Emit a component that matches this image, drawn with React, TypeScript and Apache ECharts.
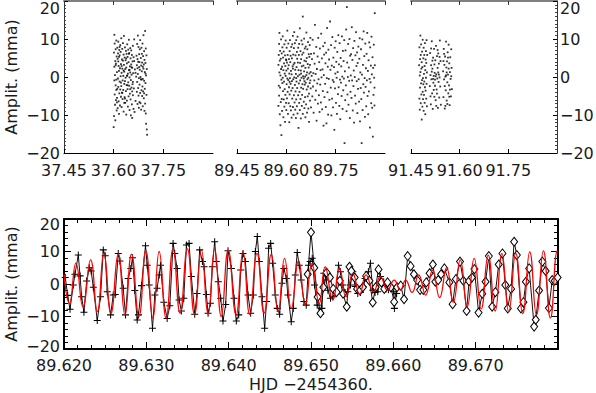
import React, { useEffect, useRef } from "react";
import * as echarts from "echarts";

const FONT = "DejaVu Sans";
const TXT = "#1a1a1a";

// ---------- Top row: three observing runs, x = HJD - 2454360 ----------
const runRanges = [
  [37.45, 37.9],
  [89.45, 89.9],
  [91.45, 91.9],
];
const runTickStep = 0.15;
const ampTicks = { min: -20, max: 20, step: 10 };

// dots: flat pairs [time offset in 0.001 d from the run base, amplitude in mma]
const run1Base = 37.6;
const run1Dots = [
  0,-13.2, 1,6.4, 1,-10.3, 2,2.7, 2,11.1, 3,-4.6, 3,8.8, 4,-7.3, 4,0.5, 5,4.2,
  5,-11.4, 6,-2.2, 6,7.3, 7,3.5, 7,-6.1, 8,9.6, 8,-0.7, 9,5.4, 9,-8.8, 10,1.3,
  10,-5.5, 11,7.7, 11,-3.1, 12,4.8, 12,-8.2, 13,-0.4, 13,6.2, 14,-2.6, 14,9.3, 15,-6.4,
  15,2.9, 16,-9.7, 16,1.6, 17,7.1, 17,-4.3, 18,5.7, 18,-1.2, 19,2.3, 19,-7.5, 20,8.4,
  20,-3.3, 21,0.2, 21,6.6, 22,-5.2, 22,3.4, 23,10.2, 23,-2.4, 24,1.1, 24,-7.9, 25,4.6,
  25,-4.1, 26,7.4, 26,2.2, 27,-0.9, 27,-5.8, 28,4.3, 28,8.9, 29,-3.4, 29,0.3, 30,5.9,
  30,-9.1, 31,3.2, 31,10.8, 32,-1.8, 32,1.4, 33,5.1, 33,-5.3, 34,7.8, 34,-1.1, 35,2.1,
  35,-6.8, 36,4.4, 36,-0.2, 37,-3.7, 37,6.9, 38,2.5, 38,-9.9, 39,6.1, 39,-2.1, 40,3.6,
  40,-6.2, 41,8.6, 41,0.4, 42,-3.2, 42,5.3, 43,0.9, 43,-7.8, 44,7.2, 44,-1.4, 45,3.9,
  45,-5.1, 46,1.8, 46,9.8, 47,-2.3, 47,6.3, 48,-8.7, 48,-0.1, 49,2.8, 49,-4.4, 50,7.6,
  50,1.2, 51,-5.9, 51,4.9, 52,-0.8, 52,-10.1, 53,3.3, 53,7.0, 54,-2.8, 54,0.6, 55,5.8,
  55,-7.2, 56,2.4, 56,-10.8, 57,4.1, 57,-1.9, 58,8.2, 58,-4.8, 59,1.0, 60,-8.4, 60,5.2,
  61,-3.0, 62,9.9, 63,-9.2, 64,2.0, 66,-6.3, 68,0.1, 69,5.6, 70,-3.9, 70,3.1, 71,8.7,
  71,-1.3, 72,4.7, 72,-7.1, 73,0.8, 73,10.9, 74,-2.9, 74,4.0, 75,-4.9, 75,7.9, 76,-0.3,
  76,-8.1, 77,2.6, 77,6.0, 78,-2.0, 78,-6.6, 79,7.3, 79,1.9, 80,-4.2, 80,9.7, 81,0.0,
  81,-6.9, 82,5.0, 82,-0.6, 83,3.0, 83,-8.6, 84,7.7, 84,-3.5, 85,1.5, 85,6.1, 86,-5.0,
  86,3.8, 87,-2.5, 87,8.8, 88,-0.5, 88,-7.7, 89,5.5, 89,-3.8, 90,2.2, 90,11.0, 91,-5.6,
  91,3.3, 92,-1.0, 92,6.8, 93,-8.9, 93,4.5, 94,1.3, 94,-3.1, 95,12.1, 95,-7.0, 96,3.7,
  96,-1.6, 97,7.5, 97,-9.6, 98,0.4, 98,-12.3, 99,5.7, 99,-4.7, 100,-13.8, 100,2.1, 101,-15.2,
  2,-0.9, 6,3.1, 10,-6.7, 14,4.1, 18,7.9, 22,-1.5, 26,-4.2, 30,1.7, 34,-5.7, 38,4.9,
  42,-2.2, 46,6.1, 50,-3.2, 54,2.6, 58,-1.3, 62,4.2, 66,1.1, 72,2.3, 78,3.9, 84,-0.7,
  88,2.7, 92,-4.3, 96,0.9, 8,-3.4, 16,5.3, 24,2.9, 32,-6.8, 40,0.3, 48,1.9, 56,-3.8,
];

const run2Base = 89.6;
const run2Dots = [
  -24,3.2, -24,-7.6, -23,5.8, -23,-2.3, -22,8.7, -22,-4.9, -21,1.2, -21,11.6, -20,-9.8, -20,4.3,
  -19,-2.8, -19,6.9, -18,0.4, -18,-12.7, -17,4.8, -17,-6.6, -16,9.9, -16,2.1, -15,-0.7, -15,-15.3,
  -14,6.2, -14,-5.8, -13,2.7, -13,-8.9, -12,7.8, -12,-1.6, -11,-0.2, -11,10.7, -10,-3.7, -10,5.1,
  -9,-10.6, -9,1.8, -8,6.7, -8,-5.9, -7,-1.2, -7,3.6, -6,8.6, -6,-7.8, -5,0.9, -5,-3.2,
  -4,5.7, -4,-11.8, -3,2.9, -3,-4.7, -2,9.6, -2,0.3, -1,-6.8, -1,4.6, 0,1.7, 0,-8.7,
  1,7.7, 1,-1.9, 2,3.8, 2,-5.6, 3,-0.4, 3,12.2, 4,-3.9, 4,5.8, 5,-9.7, 5,2.2,
  6,-0.8, 6,8.8, 7,-6.9, 7,3.1, 8,4.7, 8,-2.7, 9,-11.9, 9,0.9, 10,6.8, 10,-4.6,
  11,-0.3, 11,9.7, 12,-7.7, 12,3.9, 13,-1.8, 13,5.6, 14,-8.8, 14,1.6, 15,7.9, 15,-3.6,
  16,0.7, 16,-10.7, 17,4.9, 17,-1.1, 18,8.6, 18,-5.7, 19,2.8, 19,-2.9, 20,10.8, 20,-7.9,
  21,5.9, 21,-0.6, 22,-9.9, 22,3.3, 23,7.6, 23,-4.8, 24,-0.1, 24,11.8, 25,-6.7, 25,3.7,
  26,-2.1, 26,8.9, 27,-8.6, 27,1.9, 28,5.7, 28,-3.8, 29,-10.8, 29,0.8, 30,9.7, 30,-5.9,
  31,2.6, 31,-1.2, 32,6.6, 32,-7.7, 33,-2.9, 33,4.8, 34,10.6, 34,-9.6, 35,0.2, 35,3.8,
  36,-4.8, 36,7.7, 37,-13.4, 37,1.8, 38,5.8, 38,-1.7, 39,-6.8, 39,8.7, 40,0.6, 40,-3.9,
  41,12.8, 41,-8.7, 42,3.7, 42,-0.9, 43,-5.8, 43,6.8, 44,1.7, 44,-10.9, 45,4.7, 45,-2.8,
  46,9.6, 46,-0.2, 47,-7.6, 47,2.8, 48,5.9, 48,-4.7, 49,-1.9, 49,8.6, 50,15.9, 50,-9.7,
  51,0.2, 51,-3.1, 52,6.4, 52,3.0, 53,-6.5, 53,-0.4, 54,10.1, 54,1.5, 55,-8.2, 55,4.3,
  56,-2.0, 56,7.5, 57,0.1, 57,-5.3, 58,2.4, 58,-10.6, 59,8.0, 59,-1.5, 60,4.1, 60,-7.2,
  61,0.5, 61,11.7, 62,-3.3, 62,5.0, 63,-9.4, 63,1.2, 64,7.3, 64,-0.6, 65,-5.1, 65,3.4,
  66,9.2, 66,-2.5, 67,-0.2, 67,-8.3, 68,6.0, 68,2.5, 69,-4.4, 69,-11.8, 70,5.3, 70,0.9,
  71,-1.6, 71,8.4, 72,3.2, 72,-6.2, 73,-0.9, 73,10.3, 74,-3.0, 74,1.3, 75,6.1, 75,-8.0,
  77,0.3, 78,4.7, 79,-5.1, 80,9.8, 81,-2.5, 82,1.0, 83,-9.4, 84,6.2, 85,-0.9, 86,3.5,
  87,13.7, 88,-6.0, 89,0.8, 90,-3.6, 91,7.9, 92,-11.5, 93,2.1, 94,-1.7, 95,5.4, 96,-7.0,
  97,10.3, 98,-0.6, 99,-4.8, 100,3.9, 101,-9.2, 102,7.5, 103,-2.0, 104,1.8, 105,-6.7, 106,11.4,
  107,-0.1, 108,4.9, 109,-8.5, 110,2.0, 111,-3.7, 112,8.1, 113,-12.8, 114,0.5, 115,5.9, 116,-5.3,
  117,9.0, 118,-1.8, 119,3.6, 120,-7.9, 121,6.4, 122,-12.2, 123,-0.3, 124,12.9, 125,-4.0, 126,2.7,
  127,-9.9, 128,7.2, 129,-0.5, 130,4.6, 131,-6.0, 133,14.6, 134,1.9, 135,-2.8, 136,8.4, 137,-10.1,
  138,3.0, 139,-5.7, 140,10.5, 141,-0.8, 142,-8.0, 143,5.1, 144,-1.3, 145,2.6, 146,-13.9, 147,7.7,
  148,-3.0, 149,0.9, 150,9.4, 151,-6.8, 152,4.0, 153,-0.2, 154,-9.7, 155,6.6, 156,1.3, 157,-4.5,
  158,11.0, 159,-2.7, 160,3.3, 161,-7.6, 162,8.9, 163,-0.7, 164,-11.1, 165,5.0, 166,-1.5, 167,2.8,
  168,-5.0, 169,10.7, 170,0.1, 171,-8.4, 172,6.9, 173,-3.5, 174,4.2, 175,-0.4, 176,9.7, 177,-17.4,
  178,1.5, 179,-6.1, 180,7.0, 181,-2.2, 182,12.5, 183,-9.0, 184,18.4, 185,3.8, 186,-4.6, 187,0.0,
  188,8.7, 189,-7.3, 190,2.5, 191,-1.0, 192,10.0, 193,-10.8, 194,5.6, 195,-3.9, 196,0.4, 197,6.0,
  198,-5.5, 199,13.1, 200,-0.9, 201,4.5, 202,-8.8, 203,7.6, 204,-2.4, 205,1.7, 206,-12.0, 207,9.5,
  208,-0.0, 209,-4.9, 210,5.7, 211,-7.0, 212,11.8, 213,2.9, 214,-1.1, 215,6.5, 216,-9.5, 217,3.7,
  218,-3.1, 219,8.0, 220,-0.6, 221,-6.5, 222,4.8, 223,10.2, 224,-11.7, 225,1.2, 226,-2.9, 227,7.3,
  228,-5.8, 229,-17.4, 230,0.6, 231,9.9, 232,-8.7, 233,3.2, 234,-1.9, 235,12.0, 236,-4.1, 237,5.5,
  238,-0.3, 239,-10.5, 240,8.8, 241,-2.6, 242,2.3, 243,-7.7, 244,6.1, 245,-0.9, 246,11.6, 247,-5.0,
  248,1.6, 249,-9.8, 250,4.4, 251,-3.8, 252,9.1, 253,-0.5, 254,-13.3, 255,7.8, 256,-1.4, 257,3.0,
  258,-6.9, 259,10.6, 260,0.7, 261,-8.1, 262,5.2, 263,-15.7, 264,2.4, 265,-4.7, 266,8.5, 267,-0.2,
  268,-7.5, 269,16.8, 269,3.1, 268,-2.8, 30,-0.3, 45,0.9, 55,-1.1, 20,2.2, 10,-1.3, 0,4.4,
];

const run3Base = 91.5;
const run3Dots = [
  -25,3.1, -24,-5.7, -24,7.8, -23,0.4, -23,-8.6, -22,4.7, -22,-2.8, -21,10.9, -21,1.3, -20,-6.9,
  -20,5.8, -19,-1.7, -19,8.6, -18,-4.6, -18,2.2, -17,-11.2, -17,3.9, -16,-0.8, -16,6.7, -15,-7.8,
  -15,2.6, -14,-3.9, -14,9.8, -13,-0.3, -13,-5.8, -12,4.9, -12,-1.9, -11,7.7, -11,-8.9, -10,0.8,
  -10,-4.7, -9,5.8, -9,-1.2, -8,2.9, -8,-6.8, -7,8.9, -7,-2.7, -6,1.8, -6,-9.8, -5,4.6,
  -5,-3.6, -4,-0.2, -4,6.8, -3,-5.7, -3,3.7, -2,-1.8, -2,9.7, -1,1.2, -1,-7.7, 0,5.8,
  8,-2.4, 9,6.3, 10,0.5, 11,-7.2, 12,3.1, 13,-0.6, 14,9.4, 15,-4.3, 16,2.2, 17,-8.4,
  18,5.1, 19,-1.5, 20,0.3, 21,7.4, 22,-5.2, 23,1.1, 24,-2.3, 25,4.4, 26,-6.1, 27,8.2,
  28,0.7, 29,-3.3, 30,5.5, 31,-0.4, 32,2.4, 33,-8.1, 34,6.2, 35,-1.3, 36,3.5, 37,-5.4,
  38,-0.1, 39,9.6, 40,-2.5, 41,4.2, 42,-7.3, 10,-5.1, 14,1.4, 18,-0.5, 22,3.3, 26,0.2,
  30,-4.4, 34,1.2, 38,5.3, 12,7.5, 20,-3.4, 28,-7.6, 36,0.6, 16,4.3, 24,-0.7, 32,7.1,
  49,1.5, 50,-5.3, 51,7.4, 52,-0.6, 53,3.2, 54,-8.3, 55,5.4, 56,0.1, 57,-3.5, 58,9.3,
  59,2.5, 60,-6.2, 61,4.1, 62,-1.4, 63,6.5, 64,0.6, 65,-4.3, 66,8.5, 67,-2.2, 68,3.6,
  69,-7.4, 70,1.3, 71,5.2, 72,-0.5, 73,-5.1, 74,7.3, 75,2.4, 76,-3.2, 50,4.2, 54,-2.4,
  58,0.4, 62,-7.1, 66,2.2, 70,-3.3, 74,0.2, 52,6.1, 60,1.2, 68,-5.2, 56,-7.6, 64,5.1,
];

// ---------- Bottom: zoom on run 2, x = 89.620 + t/1000 ----------
const zoomRange = [89.62, 89.68];
const zoomTickStep = 0.01;
const zoomBase = 89.62;

// [t (0.001 d), amplitude mma] — first data set, "+" markers
const plusPts = [
  [0.15,2.0],[0.45,-3.5],[0.73,-7.8],[1.13,-0.3],[1.33,3.0],[1.74,8.9],[1.95,2.5],[2.14,-3.9],[2.42,-8.7],[2.75,0.9],
  [3.07,5.0],[3.3,4.0],[3.56,-1.0],[4.04,-11.2],[4.44,-3.9],[4.77,10.5],[5.01,8.7],[5.25,-2.4],[5.66,-9.5],[5.98,-3.4],
  [6.22,-3.2],[6.59,9.4],[6.79,7.1],[7.19,-1.3],[7.47,-9.5],[7.8,1.7],[8.12,4.8],[8.32,8.1],[8.6,-2.0],[8.89,-11.1],
  [9.05,-9.5],[9.41,-0.5],[9.9,11.8],[10.1,5.8],[10.34,-0.3],[10.75,-13.6],[11.03,-3.4],[11.31,-1.3],[11.56,2.8],[11.72,5.8],
  [12.12,-5.6],[12.53,-10.6],[12.85,-6.7],[13.25,12.5],[13.45,9.4],[13.74,4.8],[13.98,-4.9],[14.26,-8.3],[14.55,-4.4],[14.87,12.0],
  [15.19,12.5],[15.47,2.3],[15.88,-9.3],[16.16,-2.9],[16.48,10.5],[16.81,6.9],[17.01,5.3],[17.29,-3.2],[17.5,-9.0],[17.78,-5.9],
  [18.02,5.3],[18.3,13.0],[18.5,6.9],[18.75,0.7],[19.03,-4.4],[19.31,-11.4],[19.64,-6.3],[19.92,10.2],[20.33,4.8],[20.65,-4.4],
  [20.93,-11.4],[21.22,-9.5],[21.46,4.3],[21.74,9.4],[22.03,6.9],[22.35,-3.4],[22.67,-9.0],[23.0,-3.4],[23.24,10.0],[23.48,14.6],
  [23.72,6.9],[24.05,-3.9],[24.37,-13.6],[24.61,-5.4],[24.85,11.0],[25.1,12.5],[25.34,6.4],[25.66,-3.4],[25.9,-7.5],[26.19,-9.3],
  [26.47,0.2],[26.71,4.8],[27.0,1.7],[27.2,-3.4],[27.6,-11.6],[27.84,-7.5],[28.09,2.8],[28.33,9.7],[28.57,5.8],[28.81,1.2],
  [29.14,-5.4],[29.42,-6.5],[29.7,5.8],[29.9,6.9],[30.15,7.9],[30.43,-0.3],[30.75,-6.5],[31.16,-9.3],[31.32,-7.5],[31.56,3.3],
  [31.84,1.2],[32.05,-1.9],[32.37,-4.4],[32.65,-3.9],[33.06,-2.4],[33.34,5.8],[33.58,3.8],[33.86,-0.3],[34.15,-2.6],[34.47,-2.4],
  [34.79,-0.3],[35.08,3.8],[35.36,-0.8],[35.68,-2.9],[36.0,-2.6],[36.33,-0.8],[36.57,1.7],[36.97,3.8],[37.22,6.4],[37.5,-1.9],
  [37.78,-2.6],[38.11,-2.4],[38.43,2.3],[38.83,0.7],[39.12,-1.5],[39.4,-1.8],[39.72,-0.8],[40.05,-2.4],[40.13,-7.5],[40.4,-2.9],
];

// second data set, diamond markers
const diamondPts = [
  [29.6,3.0],[30.0,15.9],[30.4,5.0],[30.8,-4.0],[31.15,-9.0],[31.5,-1.0],[31.9,3.5],[32.3,2.0],[32.7,-1.5],[33.1,-2.5],
  [33.5,1.0],[33.9,-3.0],[34.34,-7.0],[34.67,5.3],[34.9,4.0],[35.3,2.0],[35.6,-1.5],[35.95,-2.0],[36.3,-1.0],[36.7,2.5],
  [37.1,1.0],[37.5,-5.7],[37.85,-1.0],[38.2,4.5],[38.55,0.5],[38.9,-1.5],[39.3,0.5],[39.7,-1.0],[40.1,-5.5],[40.45,-1.0],
  [40.9,-0.5],[41.3,-4.7],[41.74,8.6],[42.1,5.5],[42.5,3.0],[42.9,1.2],[43.25,-1.8],[43.65,-1.8],[44.0,0.5],[44.4,3.3],
  [44.8,6.0],[45.1,0.7],[45.45,1.2],[45.8,3.0],[46.2,4.8],[46.8,0.5],[47.2,-6.2],[47.6,1.5],[48.1,6.9],[48.5,1.0],
  [48.9,-8.3],[49.2,0.9],[49.55,2.0],[49.85,4.6],[50.35,-8.8],[50.8,-3.0],[51.2,0.7],[51.6,8.6],[52.0,-7.0],[52.4,-2.5],
  [52.8,6.0],[53.25,9.4],[53.6,-0.3],[53.9,-7.5],[54.3,-1.5],[54.67,13.0],[55.0,8.9],[55.5,-7.5],[55.8,-5.6],[56.1,0.7],
  [56.5,4.8],[57.1,-13.1],[57.3,-11.0],[57.7,-2.0],[58.1,6.9],[58.5,4.0],[58.9,-7.4],[59.3,1.2],[59.6,1.0],[59.95,2.0],
];

// multi-frequency fit (red), read at its turning points
const fitPts = [
  [0,3.0],[0.65,-6.0],[1.45,6.4],[2.3,-7.0],[3.23,7.4],[4.05,-8.5],[4.85,9.5],[5.7,-9.0],[6.59,9.3],[7.4,-9.5],
  [8.2,9.2],[9.1,-10.0],[9.94,10.2],[10.8,-10.5],[11.56,10.0],[12.4,-10.5],[13.25,10.8],[14.1,-9.0],[14.99,10.8],[15.85,-9.3],
  [16.69,10.4],[17.5,-9.3],[18.3,10.8],[19.1,-10.0],[19.95,10.4],[20.9,-9.5],[21.74,10.0],[22.55,-9.3],[23.44,9.4],[24.3,-9.0],
  [25.18,9.2],[26.0,-8.5],[26.79,7.9],[27.6,-7.5],[28.49,7.2],[29.3,-6.5],[30.11,6.3],[31.0,-6.0],[31.72,5.3],[32.65,-4.9],
  [33.46,4.8],[34.25,-3.9],[35.08,3.3],[35.9,-3.2],[36.69,2.8],[37.6,-2.4],[38.43,2.3],[39.3,-1.9],[40.1,1.2],[40.85,-1.8],
  [41.5,1.2],[42.27,-2.6],[43.08,2.8],[43.92,-3.4],[44.77,4.3],[45.62,-4.2],[46.47,5.0],[47.28,-5.6],[48.13,7.4],[48.97,-7.0],
  [49.82,7.9],[50.67,-7.7],[51.52,8.9],[52.37,-8.3],[53.18,9.4],[54.02,-8.5],[54.87,9.4],[55.72,-9.1],[56.57,9.9],[57.38,-9.5],
  [58.23,10.2],[59.08,-10.5],[59.92,10.2],[60,10.0],
];

const yName = "Amplit. (mma)";
const xName = "HJD \u22122454360.";

// ---------- helpers ----------
const toPairs = (base: number, flat: number[]) => {
  const out: number[][] = [];
  for (let i = 0; i < flat.length; i += 2) out.push([base + flat[i] / 1000, flat[i + 1]]);
  return out;
};
const toZoom = (pts: number[][]) => pts.map((p) => [zoomBase + p[0] / 1000, p[1]]);
const minus = (v: number) => (v < 0 ? "\u2212" + Math.abs(v) : String(v));
const txt = { fontFamily: FONT, fontSize: 16, color: TXT };

const yFormatter = (v: number) => {
  if (v === ampTicks.max) return "{t|" + minus(v) + "}";
  if (v === ampTicks.min) return "{b|" + minus(v) + "}";
  return minus(v);
};
const yRich = (topPad: number, botPad: number) => ({
  t: { ...txt, padding: [topPad, 0, 0, 0] },
  b: { ...txt, padding: [0, 0, botPad, 0] },
});
const yNameOpts = {
  name: yName,
  nameLocation: "middle",
  nameRotate: 90,
  nameGap: 45,
  nameMoveOverlap: false,
  nameTextStyle: { ...txt },
};

export default function App() {
  const ref = useRef<HTMLDivElement>(null);
  useEffect(() => {
    if (!ref.current) return;
    const chart = echarts.init(ref.current, undefined, { renderer: "svg" });

    const topGrids = [
      { left: 64, top: 1, width: 149, height: 152 },
      { left: 237, top: 1, width: 148, height: 152 },
      { left: 411, top: 1, width: 146, height: 152 },
    ];
    const grids: any[] = [...topGrids, { left: 64, top: 219, width: 494, height: 130 }].map((g) => ({
      ...g,
      containLabel: false,
      outerBoundsMode: "none",
    }));

    const xAxes: any[] = [];
    runRanges.forEach((r, i) => {
      xAxes.push({
        type: "value",
        gridIndex: i,
        position: "bottom",
        min: r[0],
        max: r[1],
        interval: runTickStep,
        axisLine: { show: true, onZero: false, lineStyle: { color: "#000", width: 1 } },
        axisTick: { show: true, inside: true, length: 4, lineStyle: { color: "#000", width: 1 } },
        axisLabel: {
          ...txt,
          margin: 9,
          showMaxLabel: false,
          formatter: (v: number) => (Math.abs(v - r[1]) < 1e-6 ? "" : v.toFixed(2)),
        },
        splitLine: { show: false },
      });
      xAxes.push({
        type: "value",
        gridIndex: i,
        position: "top",
        min: r[0],
        max: r[1],
        interval: runTickStep,
        axisLine: { show: true, onZero: false, lineStyle: { color: "#808080", width: 2 } },
        axisTick: { show: true, inside: true, length: 4, lineStyle: { color: "#333", width: 1 } },
        axisLabel: { show: false },
        splitLine: { show: false },
      });
    });
    const zoomX = (pos: string, labels: boolean) => ({
      type: "value",
      gridIndex: 3,
      position: pos,
      min: zoomRange[0],
      max: zoomRange[1],
      interval: zoomTickStep,
      axisLine: { show: true, onZero: false, lineStyle: { color: "#000", width: 2 } },
      axisTick: { show: true, inside: true, length: 7, lineStyle: { color: "#000", width: 1 } },
      minorTick: { show: true, splitNumber: 6, length: 4, lineStyle: { color: "#000", width: 1 } },
      axisLabel: labels
        ? {
            ...txt,
            margin: 8,
            showMaxLabel: false,
            formatter: (v: number) => (Math.abs(v - zoomRange[1]) < 1e-7 ? "" : v.toFixed(3)),
          }
        : { show: false },
      splitLine: { show: false },
      minorSplitLine: { show: false },
      ...(labels
        ? { name: xName, nameLocation: "middle", nameGap: 27, nameMoveOverlap: false, nameTextStyle: { ...txt } }
        : {}),
    });
    xAxes.push(zoomX("bottom", true), zoomX("top", false));

    const topY = (i: number, pos: string, show: boolean, withName: boolean): any => ({
      type: "value",
      gridIndex: i,
      position: pos,
      min: ampTicks.min,
      max: ampTicks.max,
      interval: ampTicks.step,
      show,
      axisLine: { show: true, onZero: false, lineStyle: { color: "#333", width: 1 } },
      axisTick: { show: true, inside: true, length: 4, lineStyle: { color: "#000", width: 1 } },
      minorTick: { show: true, splitNumber: 10, length: 2, lineStyle: { color: "#444", width: 1 } },
      axisLabel: { ...txt, margin: pos === "left" ? 4 : 3, formatter: yFormatter, rich: yRich(15, 0) },
      splitLine: { show: false },
      minorSplitLine: { show: false },
      ...(withName ? yNameOpts : {}),
    });
    const zoomY = (pos: string, labels: boolean): any => ({
      type: "value",
      gridIndex: 3,
      position: pos,
      min: ampTicks.min,
      max: ampTicks.max,
      interval: ampTicks.step,
      axisLine: { show: true, onZero: false, lineStyle: { color: "#000", width: 2 } },
      axisTick: { show: true, inside: true, length: 7, lineStyle: { color: "#000", width: 1 } },
      minorTick: { show: true, splitNumber: 5, length: 4, lineStyle: { color: "#000", width: 1 } },
      axisLabel: labels
        ? { ...txt, margin: 4, formatter: yFormatter, rich: yRich(11, 6) }
        : { show: false },
      splitLine: { show: false },
      minorSplitLine: { show: false },
      ...(labels ? yNameOpts : {}),
    });
    const yAxes: any[] = [
      topY(0, "left", true, true),
      topY(1, "left", false, false),
      topY(2, "right", true, false),
      zoomY("left", true),
      zoomY("right", false),
    ];

    const runs = [
      toPairs(run1Base, run1Dots),
      toPairs(run2Base, run2Dots),
      toPairs(run3Base, run3Dots),
    ];
    const series: any[] = runs.map((d, i) => ({
      type: "scatter",
      xAxisIndex: i * 2,
      yAxisIndex: i,
      data: d,
      symbol: "rect",
      symbolSize: 1.8,
      itemStyle: { color: "#000" },
      silent: true,
    }));
    series.push({
      type: "line",
      xAxisIndex: 6,
      yAxisIndex: 3,
      data: toZoom(plusPts),
      symbol: "path://M0,3H7V4H0Z M3,0H4V7H3Z",
      symbolSize: 7,
      showSymbol: true,
      lineStyle: { color: "#111", width: 1 },
      itemStyle: { color: "#000", borderWidth: 0 },
      z: 2,
      silent: true,
    });
    series.push({
      type: "line",
      xAxisIndex: 6,
      yAxisIndex: 3,
      data: toZoom(diamondPts),
      symbol: "diamond",
      symbolSize: [7, 9],
      showSymbol: true,
      lineStyle: { color: "#111", width: 1 },
      itemStyle: { color: "#fff", borderColor: "#000", borderWidth: 1 },
      z: 2,
      silent: true,
    });
    series.push({
      type: "line",
      xAxisIndex: 6,
      yAxisIndex: 3,
      data: toZoom(fitPts),
      smooth: 0.5,
      showSymbol: false,
      symbol: "none",
      lineStyle: { color: "#ff0000", width: 1.3 },
      z: 3,
      silent: true,
    });

    chart.setOption({
      animation: false,
      backgroundColor: "#fff",
      grid: grids,
      xAxis: xAxes,
      yAxis: yAxes,
      series,
    });
    return () => chart.dispose();
  }, []);

  return (
    <div
      ref={ref}
      style={{ position: "absolute", left: 0, top: 0, width: 596, height: 393, background: "#fff" }}
    />
  );
}
